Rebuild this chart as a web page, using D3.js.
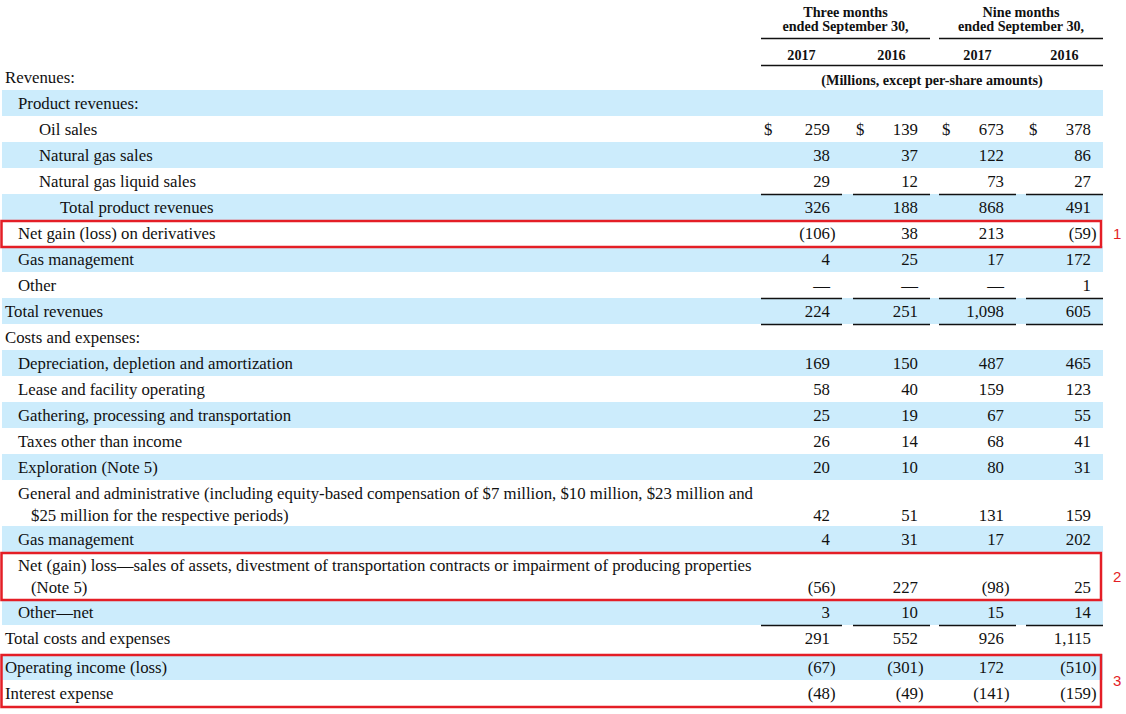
<!DOCTYPE html>
<html>
<head>
<meta charset="utf-8">
<script src="https://cdn.jsdelivr.net/npm/d3@7"></script>
<style>
  html, body { margin: 0; padding: 0; background: #fff; }
  svg { display: block; }
  .lbl, .num { font-family: "Liberation Serif", "Times New Roman", serif; font-size: 16.8px; fill: #111; }
  .hdr { font-family: "Liberation Serif", "Times New Roman", serif; font-size: 14.2px; font-weight: bold; fill: #111; }
  .tag { font-family: "Liberation Sans", Arial, sans-serif; font-size: 15px; fill: #e41e26; }
</style>
</head>
<body>
<svg id="chart" width="1126" height="714"></svg>
<script>
// ========== DATA ==========
const colKeys = ["q3_2017", "q3_2016", "ytd_2017", "ytd_2016"];
const years = ["2017", "2016", "2017", "2016"];
const periods = ["Three months", "Nine months"];
const periodSub = "ended September 30,";
const unitNote = "(Millions, except per-share amounts)";

const labels = [
  "Revenues:",
  "Product revenues:",
  "Oil sales",
  "Natural gas sales",
  "Natural gas liquid sales",
  "Total product revenues",
  "Net gain (loss) on derivatives",
  "Gas management",
  "Other",
  "Total revenues",
  "Costs and expenses:",
  "Depreciation, depletion and amortization",
  "Lease and facility operating",
  "Gathering, processing and transportation",
  "Taxes other than income",
  "Exploration (Note 5)",
  "General and administrative (including equity-based compensation of $7 million, $10 million, $23 million and\n$25 million for the respective periods)",
  "Gas management",
  "Net (gain) loss\u2014sales of assets, divestment of transportation contracts or impairment of producing properties\n(Note 5)",
  "Other\u2014net",
  "Total costs and expenses",
  "Operating income (loss)",
  "Interest expense"
];

// indent level of each label
const levels = [0, 1, 2, 2, 2, 3, 1, 1, 1, 0, 0, 1, 1, 1, 1, 1, 1, 1, 1, 1, 0, 0, 0];

const q3_2017  = [null, null, 259, 38, 29, 326, -106, 4, "—", 224, null, 169, 58, 25, 26, 20, 42, 4, -56, 3, 291, -67, -48];
const q3_2016  = [null, null, 139, 37, 12, 188, 38, 25, "—", 251, null, 150, 40, 19, 14, 10, 51, 31, 227, 10, 552, -301, -49];
const ytd_2017 = [null, null, 673, 122, 73, 868, 213, 17, "—", 1098, null, 487, 159, 67, 68, 80, 131, 17, -98, 15, 926, 172, -141];
const ytd_2016 = [null, null, 378, 86, 27, 491, -59, 172, 1, 605, null, 465, 123, 55, 41, 31, 159, 202, 25, 14, 1115, -510, -159];
const series = { q3_2017, q3_2016, ytd_2017, ytd_2016 };

const dollarRows = [2];
const ruleAbove = [5, 9, 20];
const ruleBelow = [9];
const callouts = [
  { from: 6, to: 6, tag: "1" },
  { from: 18, to: 18, tag: "2" },
  { from: 21, to: 22, tag: "3" }
];

// ========== LAYOUT ==========
const svg = d3.select("#chart");
const bandLeft = 2, bandRight = 1103;
const indentX = [5, 18, 39, 60];
const blue = "#ccecfc";
const red = "#e41e26";
const fmt = d3.format(",");

// column edges (the first column is a bit wider in the source)
const colLeft = d3.scaleOrdinal().domain(colKeys).range([761, 853, 939, 1026]);
const colRight = d3.scaleOrdinal().domain(colKeys).range([842, 930, 1016, 1103]);

// row heights: single line 26, double 46, a little air before operating income
const lineCounts = labels.map(l => l.split("\n").length);
const heights = lineCounts.map((n, i) => (n === 2 ? 46 : 26) + (i === 20 ? 3 : 0) + (i === 18 ? 1 : 0));
const tops = [64];
heights.forEach((h, i) => tops.push(tops[i] + h));

// ========== BANDS ==========
svg.append("g")
  .selectAll("rect")
  .data(labels.map((l, i) => i).filter(i => i % 2 === 1))
  .join("rect")
  .attr("x", bandLeft)
  .attr("y", i => tops[i])
  .attr("width", bandRight - bandLeft)
  .attr("height", i => heights[i])
  .attr("fill", blue);

// ========== HEADER ==========
const hdr = svg.append("g");
periods.forEach((p, k) => {
  const x0 = colLeft(colKeys[k * 2]);
  const x1 = colRight(colKeys[k * 2 + 1]);
  const cx = (x0 + x1) / 2;
  hdr.append("text").attr("class", "hdr").attr("x", cx).attr("y", 17).attr("text-anchor", "middle").text(p);
  hdr.append("text").attr("class", "hdr").attr("x", cx).attr("y", 31).attr("text-anchor", "middle").text(periodSub);
  hdr.append("line").attr("x1", x0).attr("x2", x1).attr("y1", 38.5).attr("y2", 38.5)
    .attr("stroke", "#111").attr("stroke-width", 1.3);
});
colKeys.forEach((k, j) => {
  hdr.append("text").attr("class", "hdr")
    .attr("x", (colLeft(k) + colRight(k)) / 2).attr("y", 60)
    .attr("text-anchor", "middle").text(years[j]);
});
hdr.append("line").attr("x1", colLeft(colKeys[0])).attr("x2", bandRight).attr("y1", 65.5).attr("y2", 65.5)
  .attr("stroke", "#111").attr("stroke-width", 1.3);
hdr.append("text").attr("class", "hdr")
  .attr("x", (colLeft(colKeys[0]) + bandRight) / 2).attr("y", 85)
  .attr("text-anchor", "middle").text(unitNote);

// ========== LABELS ==========
const body = svg.append("g");
labels.forEach((l, i) => {
  l.split("\n").forEach((line, n) => {
    body.append("text").attr("class", "lbl")
      .attr("x", indentX[levels[i]] + (n > 0 ? 13 : 0))
      .attr("y", tops[i] + 19 + n * 22)
      .text(line);
  });
});

// ========== VALUES ==========
const parenW = 5.6;
colKeys.forEach(k => {
  const right = colRight(k) - 12;
  series[k].forEach((v, i) => {
    if (v === null) return;
    const y = tops[i] + 19 + (lineCounts[i] - 1) * 22;
    const isNeg = typeof v === "number" && v < 0;
    const txt = typeof v === "number" ? (isNeg ? `(${fmt(-v)})` : fmt(v)) : v;
    body.append("text").attr("class", "num")
      .attr("x", isNeg ? right + parenW : right)
      .attr("y", y)
      .attr("text-anchor", "end")
      .text(txt);
    if (dollarRows.includes(i)) {
      body.append("text").attr("class", "num")
        .attr("x", colLeft(k) + 3).attr("y", y).text("$");
    }
  });

  // rules under columns
  ruleAbove.forEach(i => {
    body.append("line").attr("x1", colLeft(k)).attr("x2", colRight(k))
      .attr("y1", tops[i] + 0.5).attr("y2", tops[i] + 0.5)
      .attr("stroke", "#111").attr("stroke-width", 1.3);
  });
  ruleBelow.forEach(i => {
    body.append("line").attr("x1", colLeft(k)).attr("x2", colRight(k))
      .attr("y1", tops[i + 1] + 0.5).attr("y2", tops[i + 1] + 0.5)
      .attr("stroke", "#111").attr("stroke-width", 1.3);
  });
});

// ========== CALLOUT BOXES ==========
const boxes = svg.append("g");
callouts.forEach(c => {
  const y0 = tops[c.from] + 1;
  const y1 = tops[c.to + 1] + 1;
  boxes.append("rect")
    .attr("x", 1.5).attr("y", y0)
    .attr("width", 1101 - 1.5).attr("height", y1 - y0)
    .attr("fill", "none").attr("stroke", red).attr("stroke-width", 2.5);
  boxes.append("text").attr("class", "tag")
    .attr("x", 1113).attr("y", (y0 + y1) / 2 + 5)
    .text(c.tag);
});
</script>
</body>
</html>
